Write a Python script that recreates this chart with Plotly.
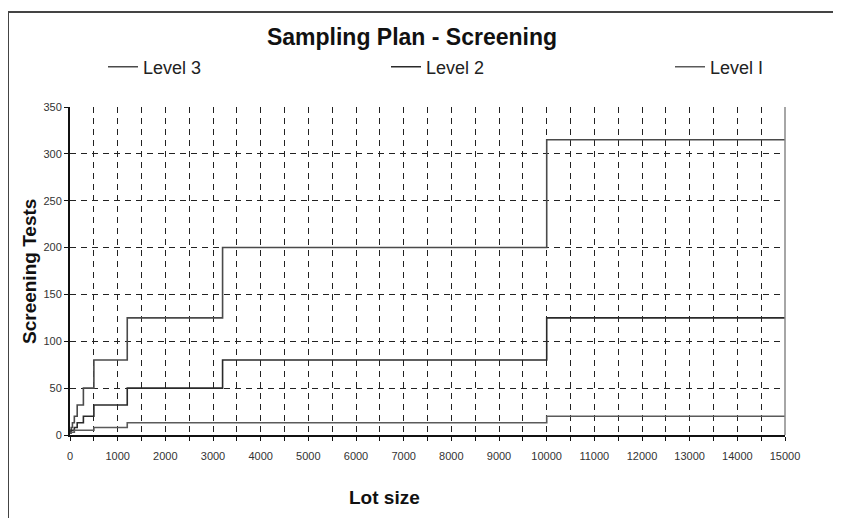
import plotly.graph_objects as go

# Lot size breakpoints (start of each lot-size range)
lot_sizes = [2, 9, 16, 26, 51, 91, 151, 281, 501, 1201, 3201, 10001, 15000]
level_3 = [2, 3, 5, 8, 13, 20, 32, 50, 80, 125, 200, 315, 315]
level_2 = [2, 2, 3, 5, 5, 8, 13, 20, 32, 50, 80, 125, 125]
level_1 = [2, 2, 2, 3, 3, 5, 5, 5, 8, 13, 13, 20, 20]

series_names = ["Level 3", "Level 2", "Level I"]
series_values = [level_3, level_2, level_1]
series_colors = ["#4a4a4a", "#2a2a2a", "#5a5a5a"]

x_tickvals = list(range(0, 15001, 500))
x_ticktext = [str(v) if v % 1000 == 0 else "" for v in x_tickvals]
y_tickvals = list(range(0, 351, 50))

FONT = "Arial, Liberation Sans, sans-serif"

# page offset (browser body margin)
OFF = 8
W, H = 841, 518
# target plot area in screen pixels: x 70..785, y 107..435
L, T = 70 - OFF, 107 - OFF
R, B = W - (785 - OFF), H - (435 - OFF)
pw, ph = W - L - R, H - T - B


def px_x(p):
    return (p - OFF - L) / pw


def px_y(p):
    return (H - B - (p - OFF)) / ph


legend_ids = ["legend", "legend2", "legend3"]
legend_text_x = [143, 426, 710]

fig = go.Figure()
for name, vals, col, lid in zip(series_names, series_values, series_colors, legend_ids):
    fig.add_trace(go.Scatter(
        x=lot_sizes, y=vals, name=name, mode="lines", legend=lid,
        line=dict(shape="hv", color=col, width=1.6),
    ))

legend_cfg = {}
for lid, tx in zip(legend_ids, legend_text_x):
    legend_cfg[lid] = dict(orientation="h", x=px_x(tx - 40), xanchor="left",
                           y=px_y(67), yanchor="middle",
                           font=dict(size=18, color="#222"),
                           bgcolor="rgba(0,0,0,0)")

fig.update_layout(
    width=W, height=H,
    margin=dict(l=L, r=R, t=T, b=B),
    paper_bgcolor="white", plot_bgcolor="white",
    font=dict(family=FONT, color="#222"),
    title=dict(text="<b>Sampling Plan - Screening</b>", x=(412 - OFF) / W, xanchor="center",
               y=1 - (37 - OFF) / H, yanchor="middle", font=dict(size=23, color="#111")),
    showlegend=True,
    **legend_cfg,
    xaxis=dict(range=[0, 15000], tickvals=x_tickvals, ticktext=x_ticktext,
               showgrid=True, gridcolor="#222", griddash="6px,5px", gridwidth=1,
               showline=True, linecolor="#111", linewidth=2,
               ticks="outside", ticklen=4, tickcolor="#111",
               tickfont=dict(size=11, color="#333"), ticklabelstandoff=6,
               zeroline=False),
    yaxis=dict(range=[0, 350], tickvals=y_tickvals,
               showgrid=True, gridcolor="#222", griddash="6px,5px", gridwidth=1,
               showline=True, linecolor="#111", linewidth=2,
               ticks="outside", ticklen=4, tickcolor="#111",
               tickfont=dict(size=11, color="#333"),
               zeroline=False),
    annotations=[
        dict(text="<b>Lot size</b>", xref="paper", yref="paper", x=px_x(384), y=px_y(497),
             xanchor="center", yanchor="middle", showarrow=False,
             font=dict(size=19, color="#111")),
        dict(text="<b>Screening Tests</b>", xref="paper", yref="paper", x=px_x(29), y=px_y(272),
             xanchor="center", yanchor="middle", showarrow=False, textangle=-90,
             font=dict(size=19, color="#111")),
    ],
    shapes=[
        # right border of plot area
        dict(type="line", xref="paper", yref="paper", x0=1, x1=1, y0=0, y1=1,
             line=dict(color="#888", width=1.5)),
        # outer chart frame (left and top edges)
        dict(type="line", xref="paper", yref="paper", x0=px_x(8), x1=px_x(8), y0=px_y(12), y1=px_y(540),
             line=dict(color="#444", width=2)),
        dict(type="line", xref="paper", yref="paper", x0=px_x(8), x1=px_x(860), y0=px_y(12), y1=px_y(12),
             line=dict(color="#444", width=2)),
    ],
)

fig.write_html("out.html")
